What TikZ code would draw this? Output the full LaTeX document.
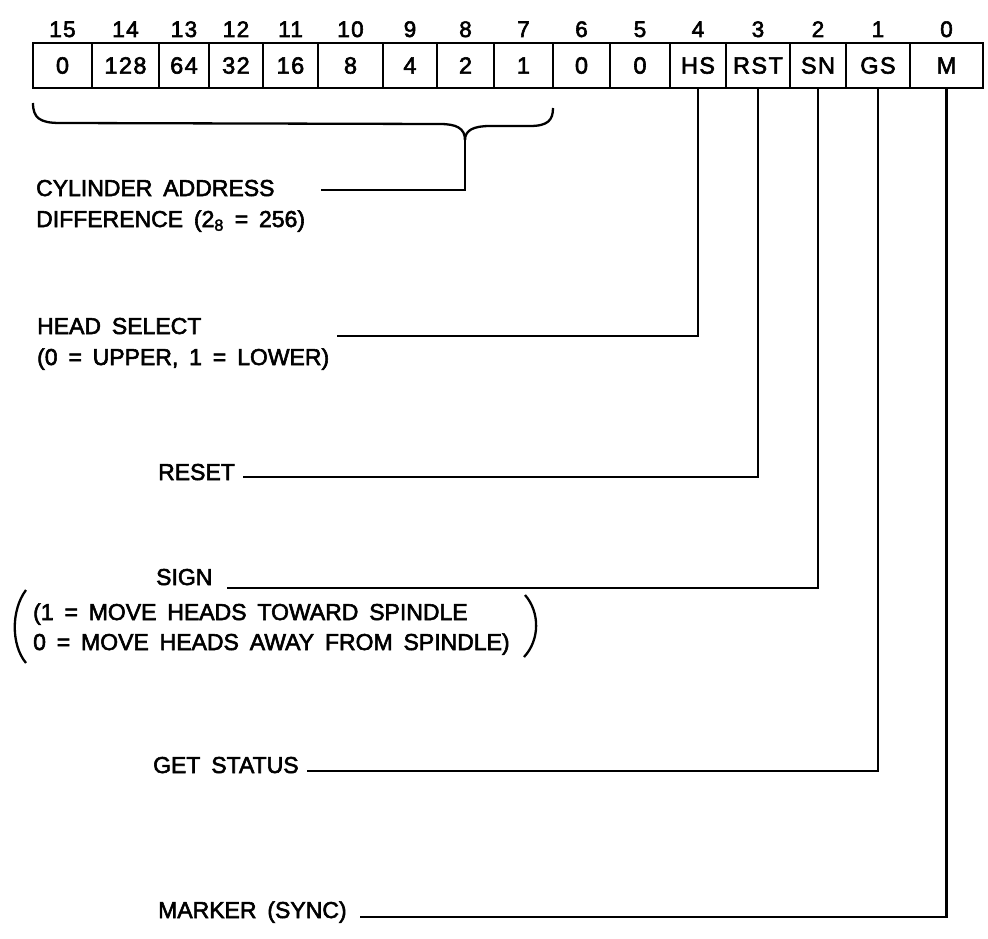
\documentclass[tikz,border=0pt]{standalone}
\usepackage{fontspec}
\setmainfont{Liberation Sans}
\newfontfamily\lblfont{Liberation Sans}[FakeBold=2.5,WordSpace=1.7]
\newfontfamily\cellfont{Liberation Sans}[FakeBold=2.5,LetterSpace=6]
\begin{document}
\begin{tikzpicture}[x=1pt,y=-1pt,line width=2.3pt,
  cellbox/.style={draw,line width=2.3pt,minimum height=45pt,inner sep=0pt,font=\cellfont\fontsize{23.5}{26}\selectfont},
  bitnum/.style={font=\cellfont\fontsize{22.5}{26}\selectfont,anchor=base,inner sep=0pt},
  lbl/.style={font=\lblfont\fontsize{23}{31}\selectfont,anchor=base west,inner sep=0pt},
  conn/.style={line width=2.3pt}]
\useasboundingbox (0,0) rectangle (988,939);
% register cells
\foreach \l/\r/\t/\b in {33/92/0/15,92/159/128/14,159/209/64/13,209/263/32/12,263/318/16/11,318/383/8/10,383/437/4/9,437/494/2/8,494/553/1/7,553/610/0/6,610/670/0/5,670/726/HS/4,726/790/RST/3,790/846/SN/2,846/910/GS/1,910/983/M/0}{
  \node[cellbox,minimum width={\r-\l}] (c\b) at ({(\l+\r)/2},65.5) {\t};
  \node[bitnum] (n\b) at ({(\l+\r)/2},37) {\b};
}
% labels
\node[lbl] (cyl1) at (35,196) {CYLINDER ADDRESS};
\node[lbl] (cyl2) at (35,227) {DIFFERENCE (2\textsubscript{8} = 256)};
\node[lbl] (hs1) at (36,334) {HEAD SELECT};
\node[lbl] (hs2) at (36,365) {(0 = UPPER, 1 = LOWER)};
\node[lbl] (rst) at (157,480) {RESET};
\node[lbl] (sgn) at (155,585) {SIGN};
\node[lbl] (sg1) at (32,620) {(1 = MOVE HEADS TOWARD SPINDLE};
\node[lbl] (sg2) at (32,650) {0 = MOVE HEADS AWAY FROM SPINDLE)};
\node[lbl] (gst) at (152,773) {GET STATUS};
\node[lbl] (mrk) at (157,918) {MARKER (SYNC)};
% free ends of connectors
\coordinate (cylE) at (321,190);
\coordinate (hsE) at (337,336);
\coordinate (rstE) at (243,477);
\coordinate (snE) at (227,588);
\coordinate (gsE) at (307,771);
\coordinate (mE) at (360,917);
% brace
\draw[conn] (33,103) .. controls (33,118) and (40,123) .. (60,123) -- (440,124)
  .. controls (456,124) and (465,128) .. (465,140) coordinate (brT);
\draw[conn] (brT) .. controls (465,130) and (474,126) .. (490,126) -- (530,126)
  .. controls (548,126) and (553,120) .. (553,108);
\draw[conn] (brT) |- (cylE);
% connectors
\draw[conn] (c4.south) |- (hsE);
\draw[conn] (c3.south) |- (rstE);
\draw[conn] (c2.south) |- (snE);
\draw[conn] (c1.south) |- (gsE);
\draw[conn] (c0.south) |- (mE);
% big parentheses
\draw[conn] (26,590) .. controls (11,610) and (11,645) .. (26,663);
\draw[conn] (525,595) .. controls (540,612) and (540,640) .. (524,657);
\end{tikzpicture}
\end{document}
